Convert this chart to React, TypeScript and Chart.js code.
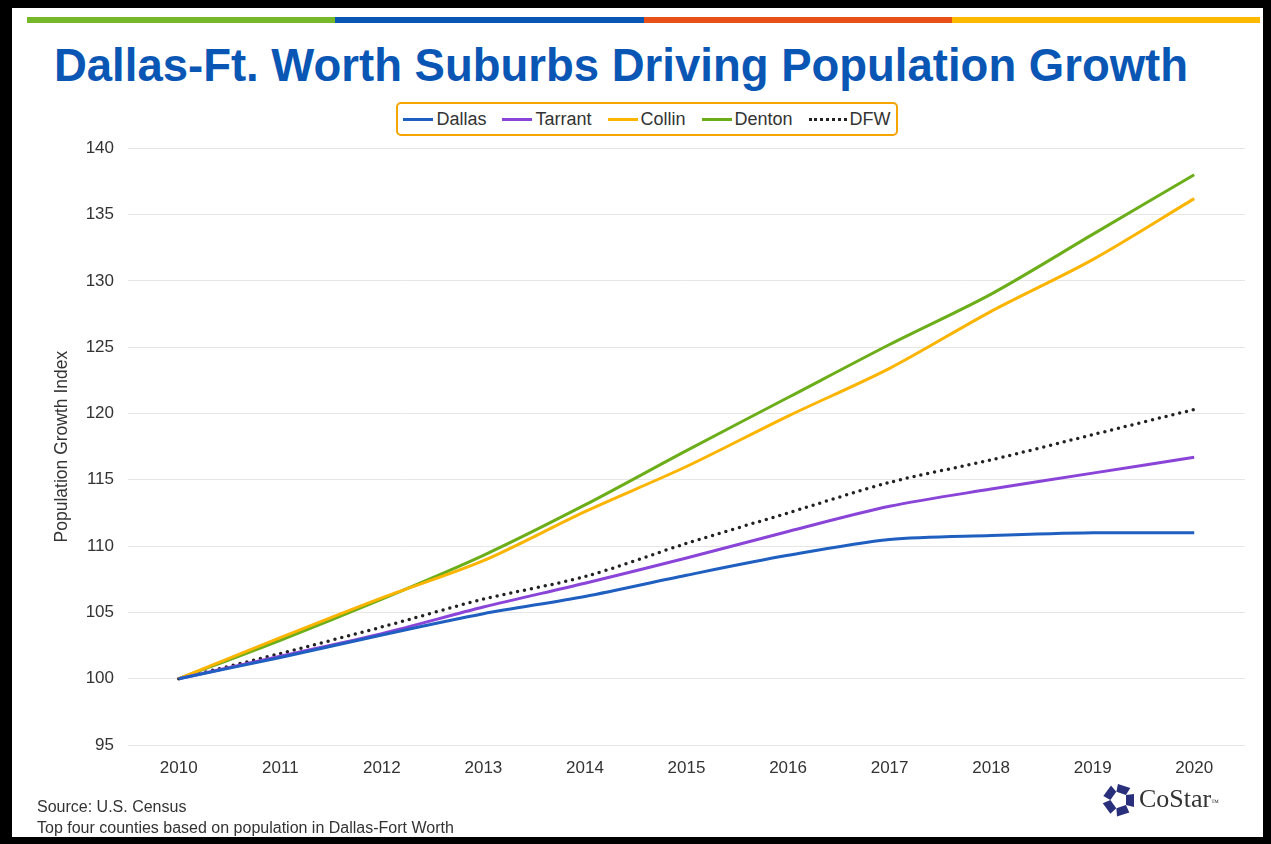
import React, { useEffect, useRef } from "react";
import { Chart, registerables } from "chart.js";

Chart.register(...registerables);

const years = ["2010", "2011", "2012", "2013", "2014", "2015", "2016", "2017", "2018", "2019", "2020"];
const dallas = [100, 101.6, 103.3, 104.9, 106.2, 107.8, 109.3, 110.5, 110.8, 111.0, 111.0];
const tarrant = [100, 101.7, 103.4, 105.4, 107.2, 109.1, 111.1, 113.0, 114.3, 115.5, 116.7];
const collin = [100, 103.1, 106.1, 108.9, 112.6, 116.0, 119.8, 123.4, 127.7, 131.6, 136.2];
const denton = [100, 102.9, 106.0, 109.3, 113.1, 117.2, 121.2, 125.2, 129.0, 133.5, 138.0];
const dfw = [100, 101.9, 103.9, 106.0, 107.7, 110.2, 112.5, 114.8, 116.5, 118.4, 120.3];

const seriesNames = ["Dallas", "Tarrant", "Collin", "Denton", "DFW"];
const seriesColors = ["#1f5fc0", "#8a44d8", "#fbb400", "#6cae1a", "#222222"];
const seriesData = [dallas, tarrant, collin, denton, dfw];

const yTitle = "Population Growth Index";
const chartTitle = "Dallas-Ft. Worth Suburbs Driving Population Growth";
const sourceLines = ["Source: U.S. Census", "Top four counties based on population in Dallas-Fort Worth"];

const FONT = "'Liberation Sans', Arial, Helvetica, sans-serif";

function Logo() {
  const pieces = [0, 1, 2, 3, 4].map((i) => (
    <polygon key={i} points="-5,-7 5,-7 7,-15 -6,-15" fill="#2a2f7c" transform={`rotate(${i * 72 + 18})`} />
  ));
  return (
    <svg width="40" height="40" viewBox="-20 -20 40 40" style={{ position: "absolute", left: 1099, top: 780 }}>
      {pieces}
    </svg>
  );
}

export default function App() {
  const canvasRef = useRef<HTMLCanvasElement | null>(null);

  useEffect(() => {
    const ctx = canvasRef.current;
    if (!ctx) return;
    const chart = new Chart(ctx, {
      type: "line",
      data: {
        labels: years,
        datasets: seriesData.map((d, i) => ({
          label: seriesNames[i],
          data: d,
          borderColor: seriesColors[i],
          backgroundColor: seriesColors[i],
          borderWidth: i === 4 ? 3.5 : 3,
          borderDash: i === 4 ? [0, 7] : [],
          borderCapStyle: i === 4 ? "round" : "butt",
          pointRadius: 0,
          tension: 0.3,
          fill: false,
        })),
      },
      options: {
        animation: false,
        responsive: false,
        maintainAspectRatio: false,
        layout: { padding: { top: 12, right: 15, left: 0, bottom: 0 } },
        plugins: {
          legend: { display: false },
          tooltip: { enabled: false },
          title: { display: false },
        },
        scales: {
          x: {
            type: "category",
            offset: true,
            grid: { display: false, drawTicks: false },
            border: { display: false },
            ticks: {
              color: "#333333",
              font: { family: FONT, size: 17 },
              padding: 13,
              maxRotation: 0,
            },
            afterFit: (s: any) => {
              s.height = 57;
            },
          },
          y: {
            min: 95,
            max: 140,
            ticks: {
              stepSize: 5,
              color: "#333333",
              font: { family: FONT, size: 17 },
              padding: 14,
            },
            grid: { color: "#e6e6e6", lineWidth: 1, drawTicks: false },
            border: { display: false },
            title: {
              display: true,
              text: yTitle,
              color: "#333333",
              font: { family: FONT, size: 17.5 },
              padding: { top: 40, bottom: 0 },
            },
            afterFit: (s: any) => {
              s.width = 116;
            },
          },
        },
      },
    });
    return () => chart.destroy();
  }, []);

  const barColors = [
    ["#76b82a", 27, 335],
    ["#0a56b4", 335, 644],
    ["#e8501a", 644, 952],
    ["#fbb900", 952, 1260],
  ] as const;

  return (
    <div
      style={{
        position: "absolute",
        left: 0,
        top: 0,
        width: 1271,
        height: 844,
        background: "#000",
        fontFamily: FONT,
        overflow: "hidden",
      }}
    >
      <div style={{ position: "absolute", left: 12, top: 8, width: 1251, height: 829, background: "#fff" }} />
      {barColors.map(([c, x0, x1]) => (
        <div key={c} style={{ position: "absolute", left: x0, top: 17, width: x1 - x0, height: 6, background: c }} />
      ))}
      <div
        style={{
          position: "absolute",
          left: 12,
          width: 1218,
          top: 38,
          textAlign: "center",
          color: "#0a56b4",
          fontWeight: "bold",
          fontSize: 45.5,
          lineHeight: "56px",
          whiteSpace: "nowrap",
        }}
      >
        {chartTitle}
      </div>
      <div
        style={{
          position: "absolute",
          left: 396,
          top: 102,
          width: 502,
          height: 34,
          boxSizing: "border-box",
          border: "2px solid #f5a400",
          borderRadius: 5,
          display: "flex",
          alignItems: "center",
          justifyContent: "center",
          gap: 16,
          fontSize: 18,
          color: "#333",
        }}
      >
        {seriesNames.map((n, i) => (
          <div key={n} style={{ display: "flex", alignItems: "center" }}>
            <div
              style={{
                width: i === 4 ? 38 : 30,
                height: 0,
                borderTop: i === 4 ? `3px dotted ${seriesColors[i]}` : `3px solid ${seriesColors[i]}`,
                marginRight: 3,
              }}
            />
            <span>{n}</span>
          </div>
        ))}
      </div>
      <canvas
        ref={canvasRef}
        width={1248}
        height={678}
        style={{ position: "absolute", left: 12, top: 124, width: 1248, height: 678 }}
      />
      <div style={{ position: "absolute", left: 37, top: 796, fontSize: 16, lineHeight: "21px", color: "#333" }}>
        {sourceLines.map((l) => (
          <div key={l}>{l}</div>
        ))}
      </div>
      <Logo />
      <div
        style={{
          position: "absolute",
          left: 1139,
          top: 784,
          fontFamily: "'Liberation Serif', 'Times New Roman', serif",
          fontSize: 26,
          color: "#333",
          lineHeight: "30px",
        }}
      >
        CoStar<span style={{ fontSize: 8, verticalAlign: "top", position: "relative", top: 4 }}>™</span>
      </div>
    </div>
  );
}
